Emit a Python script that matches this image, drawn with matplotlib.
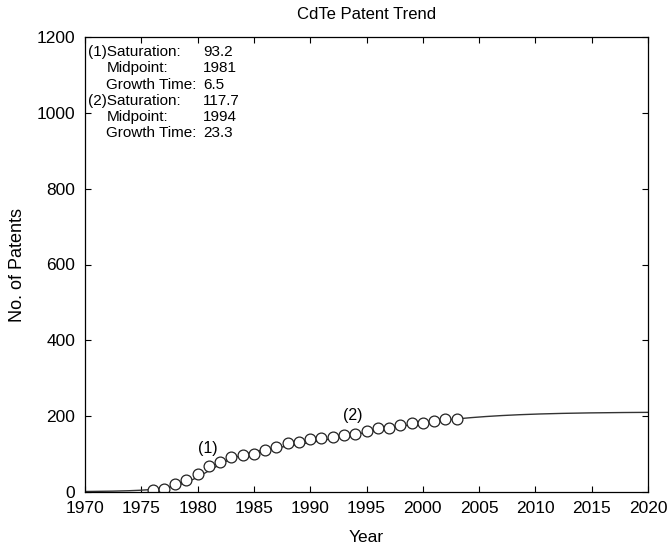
import numpy as np
import matplotlib.pyplot as plt

plt.rcParams['font.family'] = ['Liberation Sans', 'DejaVu Sans']

# cumulative patent counts
years = list(range(1976, 2004))
patents = [5, 8, 22, 31, 47, 69, 80, 91, 97, 100, 110, 120, 128, 131,
           139, 143, 146, 150, 154, 162, 168, 170, 177, 181, 183, 188, 192, 193]

# bi-logistic fit parameters
sat = [93.2, 117.7]
mid = [1981, 1994]
growth = [6.5, 23.3]

t = np.linspace(1970, 2020, 501)
fit = np.zeros_like(t)
for k, tm, dt in zip(sat, mid, growth):
    fit += k / (1 + np.exp(-np.log(81) / dt * (t - tm)))

fig = plt.figure(figsize=(6.68, 5.45), dpi=100)
ax = fig.add_axes([85 / 668, 53 / 545, 563 / 668, 455 / 545])

ax.plot(t, fit, color='#333333', lw=1.0)
ax.plot(years, patents, 'o', mfc='white', mec='#222222', mew=0.9, ms=7.8)

ax.set_xlim(1970, 2020)
ax.set_ylim(0, 1200)
ax.set_xticks(range(1970, 2021, 5))
ax.set_yticks(range(0, 1201, 200))
ax.tick_params(direction='in', top=True, right=True, labelsize=12.5, length=4, width=0.8)
ax.tick_params(axis='x', pad=6.5)
ax.tick_params(axis='y', pad=7)
for s in ax.spines.values():
    s.set_linewidth(0.9)

ax.set_title('CdTe Patent Trend', fontsize=12, pad=13)
ax.set_xlabel('Year', fontsize=12.5, labelpad=10)
ax.set_ylabel('No. of Patents', fontsize=13, labelpad=8)

ax.text(1980.9, 96, '(1)', fontsize=11.5, ha='center', va='bottom')
ax.text(1993.8, 181, '(2)', fontsize=11.5, ha='center', va='bottom')

# fit parameter block, top left
rows = [('(1)Saturation:', sat[0]), ('Midpoint:', mid[0]),
        ('Growth Time:', growth[0]), ('(2)Saturation:', sat[1]),
        ('Midpoint:', mid[1]), ('Growth Time:', growth[1])]
y0 = 1150
for i, (name, val) in enumerate(rows):
    y = y0 - i * 43.0
    x = 1970.25 if name.startswith('(') else 1971.9
    ax.text(x, y, name, fontsize=11, va='baseline')
    ax.text(1980.5, y, str(val), fontsize=11, va='baseline')

fig.savefig('out.png', dpi=100)
